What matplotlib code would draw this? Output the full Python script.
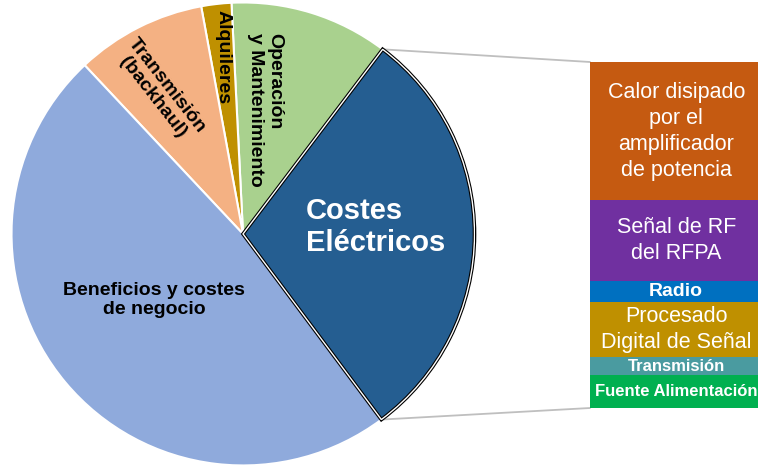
import numpy as np
import matplotlib
matplotlib.use("Agg")
import matplotlib.pyplot as plt
from matplotlib.patches import ConnectionPatch, Wedge

plt.rcParams["font.family"] = ["Liberation Sans", "DejaVu Sans"]

# Reparto de costes (pie), en %
pie_labels = ["Costes\nEléctricos", "Operación\ny Mantenimiento", "Alquileres",
              "Transmisión\n(backhaul)", "Beneficios y costes\nde negocio"]
pie_values = [29.5, 11.1, 2.1, 9.1, 48.2]
pie_colors = ["#255E91", "#A9D18E", "#BF9000", "#F4B183", "#8FAADC"]

# Desglose de los costes eléctricos (barra apilada, de arriba a abajo), en %
bar_labels = ["Calor disipado\npor el\namplificador\nde potencia", "Señal de RF\ndel RFPA",
              "Radio", "Procesado\nDigital de Señal", "Transmisión", "Fuente Alimentación"]
bar_values = [40.0, 23.2, 6.1, 16.0, 5.2, 9.5]
bar_colors = ["#C55A11", "#7030A0", "#0070C0", "#BF9000", "#4A9BA0", "#00B050"]

fig = plt.figure(figsize=(7.58, 4.65), dpi=100)
ax = fig.add_axes([0.0152, -0.001, 0.6108, 0.9957])
ax_bar = fig.add_axes([590 / 758, 57 / 465, 176 / 758, 346 / 465])

wedges, _ = ax.pie(pie_values, colors=pie_colors, startangle=-53.3, counterclock=True,
                   radius=1, wedgeprops=dict(edgecolor="white", linewidth=1.5))
ax.set_xlim(-1, 1)
ax.set_ylim(-1, 1)
ax.set_aspect("equal")
ax.set_axis_off()

# contorno del sector de costes eléctricos
blue = wedges[0]
blue.set_edgecolor("black")
blue.set_linewidth(2.6)
blue.set_zorder(3)
ax.add_patch(Wedge((0, 0), 1, blue.theta1, blue.theta2, fill=False,
                   edgecolor="white", linewidth=1.0, zorder=4))

# etiquetas del pie
ax.text(0.572, 0.03, pie_labels[0], color="white", fontsize=21, fontweight="bold",
        ha="center", va="center", multialignment="left", linespacing=1.15, zorder=5)
ax.text(0.095, 0.536, pie_labels[1], color="black", fontsize=14, fontweight="bold",
        ha="center", va="center", rotation=-90, multialignment="left", linespacing=1.15)
ax.text(-0.086, 0.765, pie_labels[2], color="black", fontsize=14, fontweight="bold",
        ha="center", va="center", rotation=-90)
ax.text(-0.36, 0.615, pie_labels[3], color="black", fontsize=14, fontweight="bold",
        ha="center", va="center", rotation=-52, linespacing=1.1)
ax.text(-0.384, -0.285, pie_labels[4], color="black", fontsize=14, fontweight="bold",
        ha="center", va="center", linespacing=1.2)

# barra apilada
total = sum(bar_values)
bottoms = total - np.cumsum(bar_values)
sizes = [15.5, 15.5, 14, 15.5, 12, 12]
weights = ["normal", "normal", "bold", "normal", "bold", "bold"]
for lab, val, b, col, fs, fw in zip(bar_labels, bar_values, bottoms, bar_colors, sizes, weights):
    ax_bar.bar(0, val, bottom=b, width=1, color=col, linewidth=0)
    ax_bar.text(-0.01, b + val / 2, lab, color="white", fontsize=fs, fontweight=fw,
                ha="center", va="center", linespacing=1.32)
ax_bar.set_xlim(-0.5, 0.5)
ax_bar.set_ylim(0, total)
ax_bar.set_axis_off()

# líneas de unión entre el sector y la barra
for ang, corner in [(blue.theta2, (0, 1)), (blue.theta1, (0, 0))]:
    t = np.deg2rad(ang)
    con = ConnectionPatch(xyA=(np.cos(t), np.sin(t)), coordsA=ax.transData,
                          xyB=corner, coordsB=ax_bar.transAxes,
                          color="#BFBFBF", linewidth=1.3, zorder=0)
    fig.add_artist(con)

fig.savefig("out.png", dpi=100)
